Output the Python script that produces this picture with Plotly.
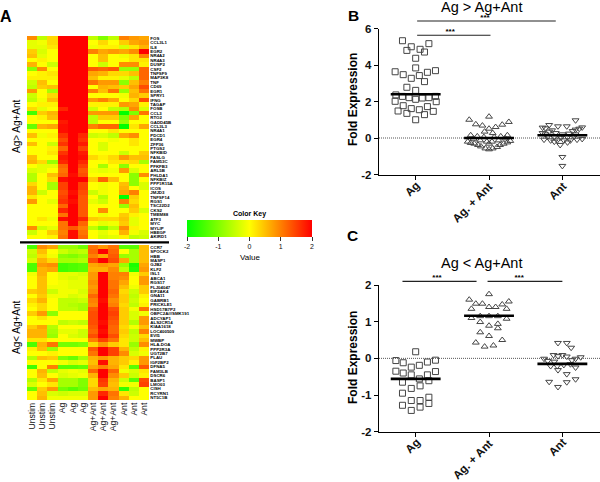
import plotly.graph_objects as go

# ---------- Heat map data ----------
columns = ["Unstim", "Unstim", "Unstim", "Ag", "Ag", "Ag", "Ag+Ant", "Ag+Ant", "Ag+Ant", "Ant", "Ant", "Ant"]

genes_up = ["FOS", "CCL3L1", "IL8", "EGR2", "NR4A2", "NR4A3", "DUSP2", "CSF2", "TNFSF9", "MAP3K8", "TNF", "CD69",
            "EGR1", "SPRY1", "IFNG", "TAGAP", "FOSB", "CCL3", "RTO2", "GADD45B", "CCL3L3", "NR4A1", "PDCD1", "EGR4",
            "ZFP36", "PTGS2", "NFKBID", "FASLG", "FAM53C", "PFKFB3", "ARL5B", "PHLDA1", "NFKBIZ", "PPP1R15A", "ICOS",
            "JMJD3", "TNFSF14", "RGS1", "TSC22D2", "CKS2", "TMEM88", "ATF3", "MYC", "MYLIP", "HBEGF", "AKIRD1"]

heat_up = [
    [.9, -.5, .3, 2, 2, 2, -.5, -1, -.5, 1, .8, .7],
    [-.2, -.1, .3, 2, 2, 2, 0, .3, 0, .4, .7, .8],
    [-.2, -.2, .2, 2, 2, 2, -.1, .1, .1, -.3, .2, .6],
    [.4, -.3, 0, 2, 2, 2, 1, .7, .8, .7, .9, 2],
    [.5, -.2, 0, 2, 2, 2, 0, .5, 0, -.1, .2, 1],
    [0, .1, 0, 2, 2, 2, 0, .5, 0, 0, .2, .2],
    [.6, 0, -.4, 2, 2, 2, 0, -.4, 0, .9, .9, .1],
    [-.9, .9, 0, 2, 2, 2, 1.3, 1.2, 1.3, -.8, -.8, 1.2],
    [0, .1, .2, 2, 2, 2, .7, .6, .3, .3, .5, 1.2],
    [.1, .1, .1, 2, 2, 2, .5, .1, .1, -.2, -.5, 1.2],
    [-.4, .5, 0, 2, 2, 2, 1.1, .8, .8, -.9, .5, 1],
    [-.5, .4, .5, 2, 2, 2, 0, .6, .5, .4, .7, 1.4],
    [.8, 0, -.7, 2, 2, 2, 1, .5, 1.1, -.8, .5, 1.1],
    [-.4, 0, .3, 2, 2, 2, 0, 0, 0, -.1, .6, .4],
    [-.5, -.1, .5, 2, 2, 2, .8, 1, .7, 0, .3, 1.4],
    [0, .1, .1, 2, 2, 2, .1, .1, .1, .8, .7, .1],
    [.3, -.2, 0, 1.7, 2, 2, -.4, 0, -.5, -.6, .9, -.3],
    [-1.5, .4, .6, 2, 2, 2, .8, .8, .8, -2, -1, 1.1],
    [0, .1, .5, 2, 2, 2, -.5, .4, .4, -1, .7, 0],
    [0, 0, 0, 1.8, 2, 2, -.5, 0, 0, -.8, 0, 0],
    [-1.2, .6, .7, 1.9, 2, 2, 1, 1.2, 1.2, -2, .2, .7],
    [0, 0, 0, 1.9, 2, 2, 0, 0, .2, 0, 0, 0],
    [.5, -.1, .1, 1.6, 2, 1.7, -.4, -.3, -.5, .7, .9, 0],
    [0, 0, 0, 1.4, 2, 1.6, 0, 0, -.1, 0, .2, 0],
    [.5, 0, -.4, 1.6, 2, 1.8, 0, -.3, 0, 0, .2, 0],
    [0, 0, .1, 1.2, 2, 1.5, 0, -.3, 0, 0, 0, 0],
    [0, 0, .2, 1.6, 2, 1.8, 0, 0, 0, -.4, 0, .4],
    [.5, 0, 0, 1.8, 2, 1.9, .3, .1, .3, .8, .5, .5],
    [.6, .3, -.8, 1.7, 2, 1.7, 0, 0, .2, .2, .3, -.7],
    [0, -.2, -.2, 1.2, 2, 1.5, 0, -.7, 0, -.9, 0, 0],
    [-.3, -.2, 0, 1.1, 2, 1.3, -.1, -.2, -.1, .8, -.3, 0],
    [-.6, 0, .5, 1.2, 1.9, 1.4, 0, 0, 0, 0, -.9, .9],
    [-.6, 0, .3, 1.9, 2, 2, .4, 1.2, .5, 0, -.9, 0],
    [.3, 0, -.7, 1.5, 2, 1.5, 0, -.1, 0, .5, -.9, -.3],
    [.6, 0, -.7, 1.5, 2, 1.5, 0, -.1, 0, .6, 0, -.3],
    [.6, -.4, 0, 1.4, 1.9, 1.4, -.4, -.1, 0, .7, 1, 0],
    [.2, 0, 0, 1.5, 2, 1.3, 0, -.6, 0, -2, .4, 0],
    [.8, 0, -.2, 1.6, 1.9, 1.3, -.2, -.4, 0, 1, .3, 0],
    [0, 0, 0, 1.2, 2, 1.3, 0, 0, 0, -.8, .5, 0],
    [0, 0, 0, 1.7, 2, 1.3, 0, .9, 0, 0, .4, -.3],
    [0, 0, 0, 1.1, 2, 1.3, 0, -.1, 0, .4, .1, 0],
    [0, .2, -.1, 1.9, 2, 1.7, .4, .3, .3, .5, -.2, 0],
    [0, 0, 0, 1.1, 2, 1.2, 0, -.2, -.1, .4, -.2, 0],
    [.9, -.4, -.2, 1.1, 1.3, 1, -.5, -1, -.5, .9, .1, 0],
    [-.4, 0, .4, 1, 1.9, 1.1, 0, -.2, 0, .6, -.1, -.3],
    [0, 0, .1, 1.1, 1.9, 1.2, 0, -.3, -.2, .1, -.5, -.4],
]

genes_down = ["CCR7", "SPOCK2", "HBB", "MASP1", "GJB2", "KLF2", "ISL1", "ABCA1", "RGS17", "FLJ04047", "EIF2AK4", "GNA11",
              "GABRB1", "PRICKLE1", "HSD17B7P2", "OBFC2A///SMK191", "ADCYAP1", "ALS2CR14", "KIAA1618", "LOC400509",
              "EVI5", "MWBP", "HLA-DOA", "PPP2R3A", "UGT2B7", "PLAU", "IGF2BP2", "DFNA5", "FAM3LB", "DSCR6", "BASP1",
              "LMO03", "CISH", "RCYRN1", "NT5C1B"]

heat_down = [
    [-1.4, .9, .7, -.8, -.8, -1.1, 1.1, .8, 1.1, -1.3, -1.3, .5],
    [-.4, .5, 0, -.4, -.6, -.5, 1.2, 2, 1.2, 0, -.7, .5],
    [-.5, .3, -.1, -.9, -1, -.8, 1, .7, 1.3, -.8, -.7, .5],
    [-.3, .6, .3, -.7, -.7, -.6, 1.4, 2, 1.4, .7, -.7, .5],
    [-1.4, .8, .9, -1.5, -1.4, -1.3, .7, .8, .7, -.8, -1.8, .7],
    [-1.4, .6, .7, -1.5, -1.4, -1.3, .6, .6, .9, -.5, -1.7, .8],
    [-.1, .6, 0, -.2, -.2, -.3, .8, 2, 1, 1, -.1, .4],
    [0, .5, 0, -.2, -.3, -.2, .8, 2, 1, .9, 0, .8],
    [0, .5, 0, -.1, -.2, -.2, .9, 2, 1.1, .7, 0, .8],
    [0, .5, -.1, -.1, -.2, -.2, .8, 2, 1.1, .5, -.1, .4],
    [.4, .5, -.4, -.1, -.1, -.3, .9, 2, 1.2, .3, -.4, .4],
    [0, .4, -.1, -.1, -.3, -.2, 1.2, 2, 1.1, .4, -.5, .1],
    [.3, .6, 0, -.5, -.5, -.4, 1, 1.9, .9, .4, -.4, 0],
    [.1, .3, 0, -.5, -.6, -.7, .9, 2, 1, .3, -.5, .1],
    [0, .3, 0, -.5, -.5, -.7, 1.3, 2, 1.4, .4, -.1, 1.1],
    [.4, .8, -.9, 0, 0, 0, 1.4, 2, 1.5, .4, -.3, -.1],
    [0, .2, 0, 0, 0, 0, 1.4, 2, 1.4, .4, -.3, .8],
    [0, 0, 0, -.5, -.4, -.5, 1.4, 1.9, 1.3, .4, -.6, .8],
    [.4, .7, -.6, 0, 0, 0, 1.3, 2, 1.2, .3, -.1, .5],
    [.6, .6, -.7, -.2, -.2, -.4, 1.2, 1.9, 1.2, .4, -.5, 1],
    [.6, .6, -.8, 0, -.3, -.4, 1.4, 2, 1.4, .3, -.4, .3],
    [.2, .2, 0, 0, 0, 0, 1, 1.5, 1.1, .2, -.4, .5],
    [-1.4, .6, 1.1, -1.1, -1.1, -1, .3, .8, .4, .2, -.8, .9],
    [.1, .5, -.8, 0, 0, 0, 1.3, 2, 1.5, .6, -.5, .1],
    [0, 0, .1, 0, 0, 0, 1.1, 2, 1.5, .9, -.3, -.1],
    [-.6, .5, .4, -1, -1.2, -.7, .6, .8, .6, .4, .3, .8],
    [0, 0, 0, -.1, -.3, -.2, .5, 1.9, .6, .4, .1, .8],
    [-1.5, 0, 1, -1.3, -1.3, -1.2, .7, 1, .7, .2, -1.3, 1.3],
    [0, .6, -.5, -.2, -.1, -.2, 1.2, 2, 1.2, -.1, -.3, .2],
    [0, .5, 0, -.3, -.2, -.1, .6, 2, .9, .4, -.4, .1],
    [-.6, .2, .7, -.7, -.7, -1, .3, 1.6, .6, -.4, -1.3, 1.4],
    [-.3, 0, .2, -.7, -.7, -1, .3, 1.5, .5, -.1, -.1, 1.5],
    [-1.2, .4, .8, -1.1, -1.3, -1.1, .5, .7, .6, -1.6, -.5, 0],
    [0, .5, -.3, -.4, -.3, -.3, .8, 1.7, 1.1, .2, -.4, 0],
    [0, .6, -.1, -.1, -.1, -.1, .8, 2, 1, .6, 0, 0],
]
key_ticks = [-2, -1, 0, 1, 2]
key_labels = ["-2", "-1", "0", "1", "2"]

# ---------- Panel B ----------
groups = ["Ag", "Ag. + Ant", "Ant"]
group_pos = [0, 1, 2]
b_ticks = [-2, 0, 2, 4, 6]
b_labels = ["-2", "0", "2", "4", "6"]

b_ag_off = [-.18, .18, -.06, .06, -.12, .12, 0, 0, -.28, -.17, .16, .27, .05, -.06, .12, -.12, 0, -.27, -.18, -.09, 0,
            .09, .18, .27, -.28, .28, -.17, .16, -.06, -.24, .05, .24, -.12, .12, 0]
b_ag_val = [5.33, 5.17, 5.0, 4.86, 4.8, 4.71, 4.37, 3.84, 3.63, 3.47, 3.6, 3.69, 3.42, 3.27, 3.09, 2.78, 2.61, 2.36,
            2.28, 2.21, 2.12, 2.19, 2.21, 2.28, 2.01, 1.99, 1.77, 1.72, 1.61, 1.48, 1.55, 1.46, 1.35, 1.28, 1.0]

b_both_off = [-.27, 0, -.18, .27, .18, -.09, .09, 0, -.06, .05, -.25, -.16, -.07, .07, .16, .25, -.29, -.25, -.2, -.15,
              -.11, -.05, 0, .05, .11, .15, .2, .25, .29, -.21, -.12, -.03, .04, .13, .22, 0]
b_both_val = [1.0, 1.17, .75, .88, .73, .68, .6, .51, .35, .27, .15, .09, .05, .05, .09, .15, -.2, -.27, -.31, -.38,
              -.46, -.57, -.62, -.57, -.49, -.38, -.31, -.24, -.16, -.04, -.13, -.2, -.2, -.13, -.02, -.31]

b_ant_off = [.18, -.18, -.06, .06, -.27, -.23, .27, .23, .18, .14, -.14, -.18, -.09, 0, .09, -.23, -.27, .18, -.25,
             -.16, -.07, .02, .11, .2, .27, -.2, -.11, -.02, .07, .16, -.11, .07, -.03, 0, 0]
b_ant_val = [.97, .71, .64, .64, .57, .53, .58, .51, .46, .38, .42, .35, .27, .2, .24, .2, .27, .2, -.09, -.13, -.13,
             -.13, -.13, -.09, -.05, .09, .05, .02, .05, .09, -.2, -.24, -.38, -1.04, -1.53]
b_means = [2.4, 0.0, 0.15]

# ---------- Panel C ----------
c_ticks = [-2, -1, 0, 1, 2]
c_labels = ["-2", "-1", "0", "1", "2"]
c_ag_off = [0, -.27, .27, -.17, .16, .05, -.06, -.27, .27, -.17, -.06, .16, .05, .18, -.18, .06, -.06, -.18, .18, .06,
            -.06, .18, -.18, .06, -.06]
c_ag_val = [.18, -.06, -.05, -.12, -.1, -.19, -.24, -.35, -.36, -.4, -.45, -.45, -.56, -.61, -.65, -.75, -.82, -.95,
            -1.06, -1.15, -1.15, -1.23, -1.28, -1.33, -1.42]

c_both_off = [0, -.27, .27, -.18, -.09, .18, 0, .09, -.24, .24, -.24, -.12, 0, .12, .24, -.12, .12, 0, .12, -.12, 0,
              .18, -.18, .06, -.06]
c_both_val = [1.75, 1.6, 1.55, 1.49, 1.49, 1.47, 1.4, 1.4, 1.35, 1.35, 1.1, 1.15, 1.15, 1.15, 1.08, .99, .94, .89,
              .82, .71, .61, .5, .43, .35, .32]

c_ant_off = [-.06, .06, .12, -.12, -.06, 0, .06, -.25, .25, .18, .13, -.2, -.11, -.16, -.07, .02, .11, .18, -.06, .06,
             .18, -.18, .06, -.06]
c_ant_val = [.42, .42, .29, .09, .06, .09, .05, -.01, .03, -.01, -.05, -.07, -.09, -.21, -.21, -.18, -.16, -.25, -.32,
             -.43, -.57, -.64, -.65, -.78]
c_means = [-.56, 1.16, -.15]

mean_halfwidth = 0.34
# bracket start, bracket end, bracket level, star position, star level
b_brackets = [(0.02, 1.91, 6.41, .945, 6.59), (0.02, 1.02, 5.63, .47, 5.81)]
c_brackets = [(-.18, .83, 2.1, .29, 2.19), (.98, 2.0, 2.1, 1.41, 2.19)]

# ---------- Layout helpers ----------
W, H = 600, 482
FONT = "Liberation Sans"
INK = "#111111"
MARK = "#454545"


def fx(p):
    return p / W


def fy(p):
    return 1 - p / H


scale = [[0, "#00ff00"], [0.5, "#ffff00"], [1, "#ff0000"]]
fig = go.Figure()
col_pos = list(range(len(columns)))

fig.add_trace(go.Heatmap(z=heat_up, x=col_pos, y=list(range(len(genes_up))), coloraxis="coloraxis",
                         xaxis="x", yaxis="y", hoverinfo="skip"))
fig.add_trace(go.Heatmap(z=heat_down, x=col_pos, y=list(range(len(genes_down))), coloraxis="coloraxis",
                         xaxis="x2", yaxis="y2", hoverinfo="skip"))


def panel(xa, ya, over, series, means, brackets):
    symbols = ["square-open", "triangle-up-open", "triangle-down-open"]
    fig.add_trace(go.Scatter(x=[-0.5, 2.513], y=[0, 0], mode="lines", xaxis=xa, yaxis=ya, showlegend=False,
                             line=dict(color="#555555", width=1, dash="1px,1px"), hoverinfo="skip"))
    for g, (off, val), sym in zip(group_pos, series, symbols):
        fig.add_trace(go.Scatter(x=[g + o for o in off], y=val, mode="markers", xaxis=xa, yaxis=ya, showlegend=False,
                                 marker=dict(symbol=sym, size=6, color=MARK, line=dict(width=1, color=MARK)),
                                 cliponaxis=False))
    for g, m in zip(group_pos, means):
        fig.add_trace(go.Scatter(x=[g - mean_halfwidth, g + mean_halfwidth], y=[m, m], mode="lines", xaxis=xa,
                                 yaxis=ya, showlegend=False, line=dict(color="black", width=2.6)))
    for x0, x1, yl, xs, ys in brackets:
        fig.add_trace(go.Scatter(x=[x0, x1], y=[yl, yl], mode="lines", xaxis=xa, yaxis=over, showlegend=False,
                                 line=dict(color="#222222", width=1.2)))
        fig.add_trace(go.Scatter(x=[xs], y=[ys], mode="text", text=["***"], xaxis=xa, yaxis=over,
                                 showlegend=False,
                                 textfont=dict(family=FONT, size=8, color="black", weight=700)))


panel("x3", "y3", "y5", [(b_ag_off, b_ag_val), (b_both_off, b_both_val), (b_ant_off, b_ant_val)], b_means, b_brackets)
panel("x4", "y4", "y6", [(c_ag_off, c_ag_val), (c_both_off, c_both_val), (c_ant_off, c_ant_val)], c_means, c_brackets)

scatter_x = dict(range=[-0.5, 2.513], tickmode="array", tickvals=group_pos, showticklabels=False,
                 showgrid=False, zeroline=False, showline=True, linecolor="black", linewidth=1.4,
                 ticks="outside", ticklen=4, tickwidth=1.2, tickcolor="black")
scatter_y = dict(showgrid=False, zeroline=False, showline=True, linecolor="black", linewidth=1.4,
                 ticks="outside", ticklen=4, tickwidth=1.2, tickcolor="black", tickmode="array",
                 tickfont=dict(family=FONT, size=11.5, color=INK, weight=700))

heat_x = dict(range=[-0.5, 11.5], showgrid=False, zeroline=False, showline=False, tickmode="array")
gene_font = dict(family=FONT, size=4.4, color="#000000", weight=700)


def text(x, y, s, size, bold=False, angle=0):
    fig.add_annotation(xref="paper", yref="paper", x=fx(x), y=fy(y), text=s, showarrow=False, textangle=angle,
                       xanchor="center", yanchor="middle",
                       font=dict(family=FONT, size=size, color="#000000", weight=700 if bold else 400))


fig.update_layout(
    width=W, height=H, margin=dict(l=0, r=0, t=0, b=0, autoexpand=False), autosize=False,
    paper_bgcolor="white", plot_bgcolor="rgba(0,0,0,0)", showlegend=False,
    font=dict(family=FONT, color=INK),
    coloraxis=dict(
        colorscale=scale, cmin=-2, cmax=2,
        colorbar=dict(orientation="h", x=fx(187), xanchor="left", y=fy(220), yanchor="top", ypad=0, xpad=0,
                      len=125 / W, lenmode="fraction", thickness=17, thicknessmode="pixels", outlinewidth=0,
                      tickmode="array", tickvals=key_ticks, ticktext=key_labels, ticks="outside", ticklen=4,
                      tickwidth=1, tickcolor="#333333", tickfont=dict(family=FONT, size=7, color=INK))),
    xaxis=dict(heat_x, domain=[fx(27), fx(149.3)], anchor="y", tickvals=[], showticklabels=False),
    yaxis=dict(domain=[fy(239), fy(36)], anchor="x", side="right", autorange="reversed", tickmode="array",
               tickvals=list(range(len(genes_up))), ticktext=genes_up, showgrid=False, zeroline=False,
               ticks="", tickfont=gene_font),
    xaxis2=dict(heat_x, domain=[fx(27), fx(149.3)], anchor="y2", tickvals=col_pos, ticktext=columns, tickangle=-90,
                ticks="", tickfont=dict(family=FONT, size=8.6, color=INK)),
    yaxis2=dict(domain=[fy(400), fy(245)], anchor="x2", side="right", autorange="reversed", tickmode="array",
                tickvals=list(range(len(genes_down))), ticktext=genes_down, showgrid=False, zeroline=False,
                ticks="", tickfont=gene_font),
    xaxis3=dict(scatter_x, domain=[fx(379), 1], anchor="y3"),
    yaxis3=dict(scatter_y, domain=[fy(174.5), fy(28.5)], anchor="x3", range=[-2, 6], tickvals=b_ticks,
                ticktext=b_labels),
    xaxis4=dict(scatter_x, domain=[fx(379), 1], anchor="y4"),
    yaxis4=dict(scatter_y, domain=[fy(431.7), fy(285)], anchor="x4", range=[-2, 2], tickvals=c_ticks,
                ticktext=c_labels),
    # hidden axes with the same scale as panels B and C, reaching above them for the brackets
    yaxis5=dict(domain=[fy(174.5), 1], anchor="x3", range=[-2, -2 + 174.5 / 18.25], visible=False),
    yaxis6=dict(domain=[fy(431.7), fy(240)], anchor="x4", range=[-2, -2 + 191.7 / 36.675], visible=False),
)

fig.add_shape(type="line", xref="paper", yref="paper", x0=fx(20), x1=fx(169), y0=fy(242.3), y1=fy(242.3),
              line=dict(color="black", width=2.2))

# rotated group labels, one per tick on the x axes of panels B and C
for xref, top in (("x3", 177), ("x4", 433.5)):
    for g, name in zip(group_pos, groups):
        fig.add_annotation(xref=xref, yref="paper", x=g, y=fy(top), text=name, showarrow=False, textangle=-45,
                           xanchor="right", yanchor="top", xshift=9,
                           font=dict(family=FONT, size=11.5, color=INK, weight=700))

text(6, 17, "A", 16, True)
text(353, 16, "B", 15.5, True)
text(352, 235, "C", 15.5, True)
text(481, 7, "Ag &gt; Ag+Ant", 14.5)
text(481.7, 263, "Ag &lt; Ag+Ant", 14.5)
text(17, 126, "Ag&gt; Ag+Ant", 10, False, -90)
text(16, 327, "Ag&lt; Ag+Ant", 10, False, -90)
text(249.5, 214, "Color Key", 7, True)
text(249.5, 257, "Value", 8)
text(353, 100, "Fold Expression", 12, True, -90)
text(353, 358, "Fold Expression", 12, True, -90)

fig.write_html("out.html", post_script="document.body.style.margin='0';", config={"displayModeBar": False})
